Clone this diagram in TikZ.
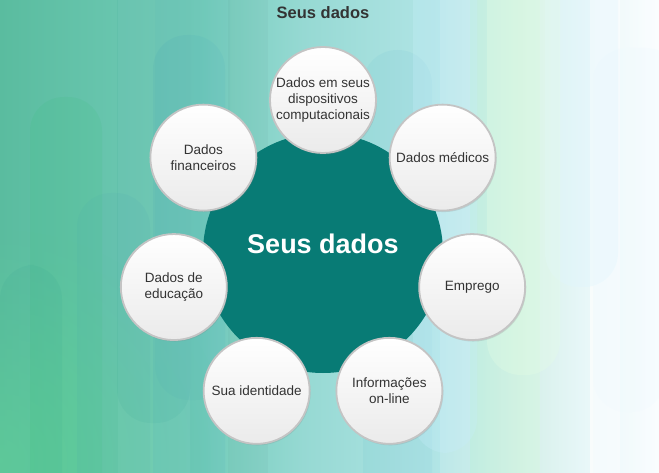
\documentclass[tikz,border=0pt]{standalone}
\usepackage{fontspec}
\setmainfont{Liberation Sans}
\usetikzlibrary{calc,shadows,fadings}
\definecolor{tealc}{HTML}{087B75}
\definecolor{txt}{HTML}{333333}
\definecolor{ringc}{HTML}{C4C4C4}
\definecolor{bgA}{HTML}{5ABC9F}
\definecolor{bgB}{HTML}{72CCB9}
\definecolor{bgC}{HTML}{96D9D3}
\definecolor{bgD}{HTML}{B2E5E6}
\definecolor{bgE}{HTML}{D4EFE8}
\definecolor{bgF}{HTML}{E6F6F7}
\definecolor{greenish}{HTML}{66D39A}
\pgfdeclarehorizontalshading{bgshade}{100bp}{
  color(0bp)=(bgA); color(25bp)=(bgA); color(40bp)=(bgB); color(48bp)=(bgC); color(58.5bp)=(bgD);
  color(64.5bp)=(bgE); color(69bp)=(bgF); color(75bp)=(white); color(100bp)=(white)}
\tikzfading[name=softglow, inner color=transparent!0, outer color=transparent!100]
\tikzset{
  pill/.style={fill=#1, rounded corners=34pt, draw=none},
  smallc/.style={circle, minimum size=106pt, inner sep=0pt, draw=ringc, line width=1.8pt,
    top color=white, bottom color=black!8, align=center, text=txt,
    font=\fontsize{13.5}{16}\selectfont,
    drop shadow={opacity=0.22, shadow xshift=1pt, shadow yshift=-1.5pt}},
  bigc/.style={circle, minimum size=240pt, inner sep=0pt, fill=tealc, draw=none}
}
\begin{document}
\begin{tikzpicture}[x=1pt,y=-1pt]
\useasboundingbox (0,0) rectangle (659,473);
\begin{scope}
\clip (0,0) rectangle (659,473);
% background
\shade[shading=bgshade] (0,0) rectangle (659,473);
\fill[greenish, path fading=softglow, opacity=0.7] (-230,230) rectangle (230,690);
% vertical stripes
\fill[white, opacity=0.05] (118,0) rectangle (190,473);
\fill[black, opacity=0.025] (228,0) rectangle (268,473);
\fill[white, opacity=0.15] (440,0) rectangle (470,473);
\fill[green!20!white, opacity=0.20] (470,0) rectangle (540,473);
\fill[white, opacity=0.7] (590,0) rectangle (620,473);
% pills rising from bottom
\fill[pill=green!50!teal, opacity=0.06] (30,97) rectangle (102,520);
\fill[pill=cyan!40!teal, opacity=0.06] (77,193) rectangle (150,520);
\fill[pill=cyan!50!teal, opacity=0.08] (153,35) rectangle (225,520);
\fill[pill=teal, opacity=0.05] (0,265) rectangle (62,520);
\fill[pill=cyan!60!teal, opacity=0.06] (363,50) rectangle (432,520);
\fill[pill=cyan!6!white, opacity=0.35] (593,48) rectangle (680,520);
% pills hanging from top
\fill[pill=teal, opacity=0.05] (117,-60) rectangle (190,423);
\fill[pill=cyan!40!teal, opacity=0.05] (155,-60) rectangle (230,400);
\fill[pill=cyan!12!white, opacity=0.40] (545,-60) rectangle (618,287);
\fill[pill=green!10!white, opacity=0.30] (487,-60) rectangle (560,375);
\fill[pill=cyan!6!white, opacity=0.25] (593,-60) rectangle (665,412);
\fill[pill=cyan!22!white, opacity=0.30] (413,-60) rectangle (477,453);
\end{scope}
% title
\node[font=\bfseries\fontsize{16.5}{18}\selectfont, text=txt] (title) at (323,13) {Seus dados};
% center
\node[bigc] (c) at (323,253) {};
\node[font=\bfseries\fontsize{27}{30}\selectfont, text=white] (ctext) at (323,244) {Seus dados};
% satellites
\node[smallc] (n1) at ($(c)+(-90:153)$) {Dados em seus\\dispositivos\\computacionais};
\node[smallc] (n2) at ($(c)+(-38.57:153)$) {Dados médicos};
\node[smallc] (n3) at ($(c)+(12.86:153)$) {Emprego};
\node[smallc] (n4) at ($(c)+(64.29:153)$) {Informações\\on-line};
\node[smallc] (n5) at ($(c)+(115.71:153)$) {Sua identidade};
\node[smallc] (n6) at ($(c)+(167.14:153)$) {Dados de\\educação};
\node[smallc] (n7) at ($(c)+(218.57:153)$) {Dados\\financeiros};
\end{tikzpicture}
\end{document}
